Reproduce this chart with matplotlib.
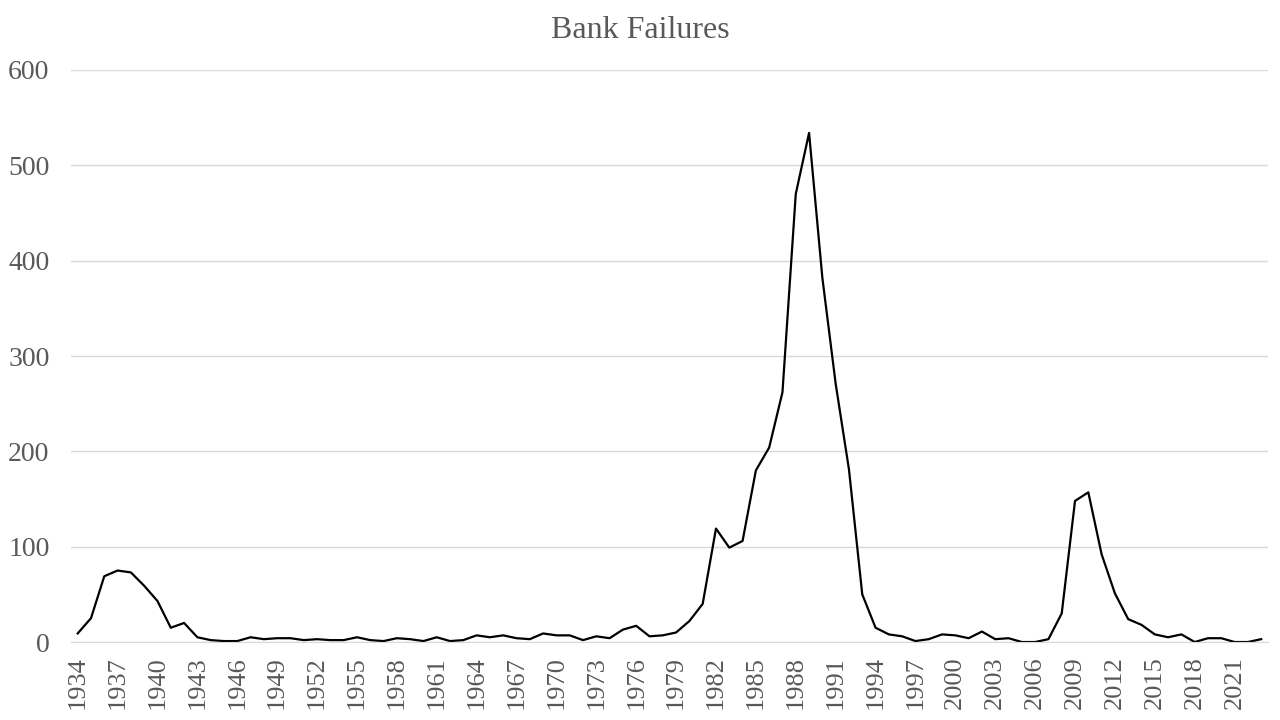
"""Bank failures per year, 1934-2023, styled like the Excel line chart."""

import matplotlib

matplotlib.use("Agg")
import matplotlib.pyplot as plt  # noqa: E402

years = list(range(1934, 2024))
failures = [
    9, 25, 69, 75, 73, 59, 43, 15, 20, 5,
    2, 1, 1, 5, 3, 4, 4, 2, 3, 2,
    2, 5, 2, 1, 4, 3, 1, 5, 1, 2,
    7, 5, 7, 4, 3, 9, 7, 7, 2, 6,
    4, 13, 17, 6, 7, 10, 22, 40, 119, 99,
    106, 180, 204, 262, 470, 534, 382, 271, 181, 50,
    15, 8, 6, 1, 3, 8, 7, 4, 11, 3,
    4, 0, 0, 3, 30, 148, 157, 92, 51, 24,
    18, 8, 5, 8, 0, 4, 4, 0, 0, 3,
]
tick_years = years[::3]
y_ticks = [0, 100, 200, 300, 400, 500, 600]

TEXT = "#595959"
GRID = "#d9d9d9"

plt.rcParams["font.family"] = ["Liberation Serif", "DejaVu Serif"]

figure = plt.figure(figsize=(12.8, 7.2), dpi=100)
axis = figure.add_axes([0.0555, 0.1083, 0.935, 0.7945])

axis.plot(years, failures, color="black", linewidth=1.6)

axis.set_xlim(years[0] - 0.5, years[-1] + 0.5)
axis.set_ylim(0, 600)
axis.set_xticks(tick_years)
axis.set_xticklabels([str(y) for y in tick_years], rotation=90)
axis.set_yticks(y_ticks)
axis.tick_params(axis="y", length=0, labelsize=20, labelcolor=TEXT, pad=15.5)
axis.tick_params(axis="x", length=0, labelsize=19, labelcolor=TEXT, pad=10)
axis.grid(axis="y", color=GRID, linewidth=1)
axis.set_axisbelow(True)
for side in ["top", "right", "left"]:
    axis.spines[side].set_visible(False)
axis.spines["bottom"].set_color(GRID)

figure.text(0.5, 1 - 30 / 720, "Bank Failures", fontsize=23, color=TEXT,
            ha="center", va="center")

figure.savefig("out.png", dpi=100)
plt.close(figure)
